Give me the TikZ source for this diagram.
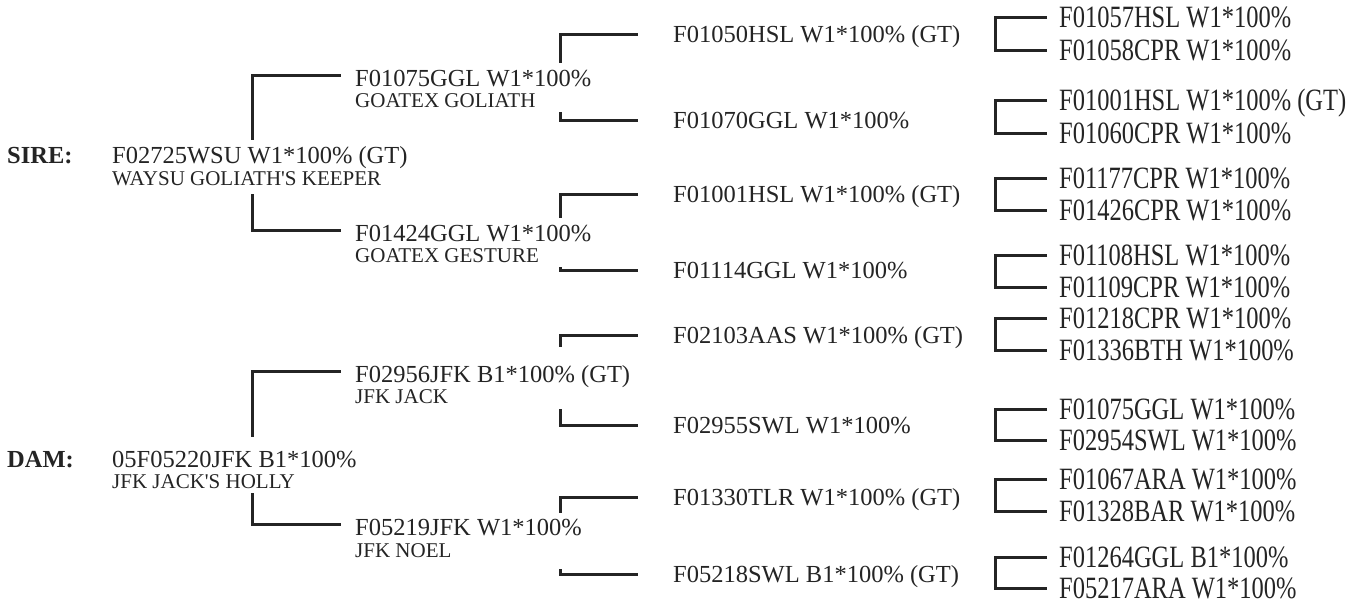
\documentclass[tikz,border=0pt]{standalone}
\usepackage{fontspec}
\setmainfont{Liberation Serif}
\newfontfamily\tallserif[FakeStretch=0.79]{Liberation Serif}
\usepackage{tikz}
\definecolor{ink}{RGB}{36,36,36}

\tikzset{
    regno/.style={anchor=base west, inner sep=0pt, text=ink,
        text height=17pt, text depth=1pt, font=\fontsize{24.5}{28}\selectfont},
    regtall/.style={regno, text height=20pt, font=\tallserif\fontsize{31}{34}\selectfont},
    callname/.style={anchor=base west, inner sep=0pt, text=ink,
        text height=14pt, text depth=1pt, font=\fontsize{21}{24}\selectfont},
    sexlabel/.style={regno, font=\fontsize{24.5}{28}\selectfont\bfseries},
    pedline/.style={draw=ink, line width=3pt},
}

\begin{document}
\begin{tikzpicture}[x=1pt, y=-1pt]
    \useasboundingbox[fill=white] (0,0) rectangle (1360,603);
    \coordinate (spineA) at (252,0);
    \coordinate (spineB) at (560,0);

    % parents
    \node[sexlabel] (siretag) at (7,163) {SIRE:};
    \node[regno] (sire) at (112,163) {F02725WSU W1*100\% (GT)};
    \node[callname] (sirenm) at (112,185) {WAYSU GOLIATH\textquotesingle S KEEPER};
    \node[sexlabel] (damtag) at (7,467) {DAM:};
    \node[regno] (dam) at (112,467) {05F05220JFK B1*100\%};
    \node[callname] (damnm) at (112,488) {JFK JACK\textquotesingle S HOLLY};

    % grandparents
    \node[regno] (gp1) at (355,86) {F01075GGL W1*100\%};
    \node[callname] (gp1nm) at (355,107) {GOATEX GOLIATH};
    \node[regno] (gp2) at (355,241) {F01424GGL W1*100\%};
    \node[callname] (gp2nm) at (355,262) {GOATEX GESTURE};
    \node[regno] (gp3) at (355,382) {F02956JFK B1*100\% (GT)};
    \node[callname] (gp3nm) at (355,403) {JFK JACK};
    \node[regno] (gp4) at (355,535) {F05219JFK W1*100\%};
    \node[callname] (gp4nm) at (355,557) {JFK NOEL};

    % great-grandparents
    \foreach \n/\y/\t in {c1/42/{F01050HSL W1*100\% (GT)}, c2/128/{F01070GGL W1*100\%},
        c3/202/{F01001HSL W1*100\% (GT)}, c4/278/{F01114GGL W1*100\%},
        c5/343/{F02103AAS W1*100\% (GT)}, c6/433/{F02955SWL W1*100\%},
        c7/505/{F01330TLR W1*100\% (GT)}, c8/582/{F05218SWL B1*100\% (GT)}}
        \node[regno] (\n) at (673,\y) {\t};

    % fourth generation
    \foreach \n/\y/\t in {d1/27/{F01057HSL W1*100\%}, d2/60/{F01058CPR W1*100\%},
        d3/110/{F01001HSL W1*100\% (GT)}, d4/143/{F01060CPR W1*100\%},
        d5/188/{F01177CPR W1*100\%}, d6/220/{F01426CPR W1*100\%},
        d7/265/{F01108HSL W1*100\%}, d8/297/{F01109CPR W1*100\%},
        d9/328/{F01218CPR W1*100\%}, d10/360/{F01336BTH W1*100\%},
        d11/419/{F01075GGL W1*100\%}, d12/450/{F02954SWL W1*100\%},
        d13/489/{F01067ARA W1*100\%}, d14/521/{F01328BAR W1*100\%},
        d15/567/{F01264GGL B1*100\%}, d16/598/{F05217ARA W1*100\%}}
        \node[regtall] (\n) at (1059,\y) {\t};

    % brackets
    \foreach \p/\d/\c in {sire.north/-6/gp1, sirenm.south/8/gp2,
        dam.north/-13/gp3, damnm.south/4/gp4}
        \draw[pedline] (spineA |- \p) ++(0,\d) |- ([xshift=-14pt,yshift=3pt]\c.west);
    \foreach \p/\d/\c in {gp1.north/-6/c1, gp1nm.south/4/c2, gp2.north/-6/c3, gp2nm.south/4/c4,
        gp3.north/-18/c5, gp3nm.south/5/c6, gp4.north/-5/c7, gp4nm.south/11/c8}
        \draw[pedline] (spineB |- \p) ++(0,\d) |- ([xshift=-35pt]\c.west);
    \foreach \a/\b in {d1/d2, d3/d4, d5/d6, d7/d8, d9/d10, d11/d12, d13/d14, d15/d16}
        \draw[pedline] ([xshift=-12pt]\a.west) -| ([xshift=-64pt]\b.west)
            -- ([xshift=-12pt]\b.west);
\end{tikzpicture}
\end{document}
